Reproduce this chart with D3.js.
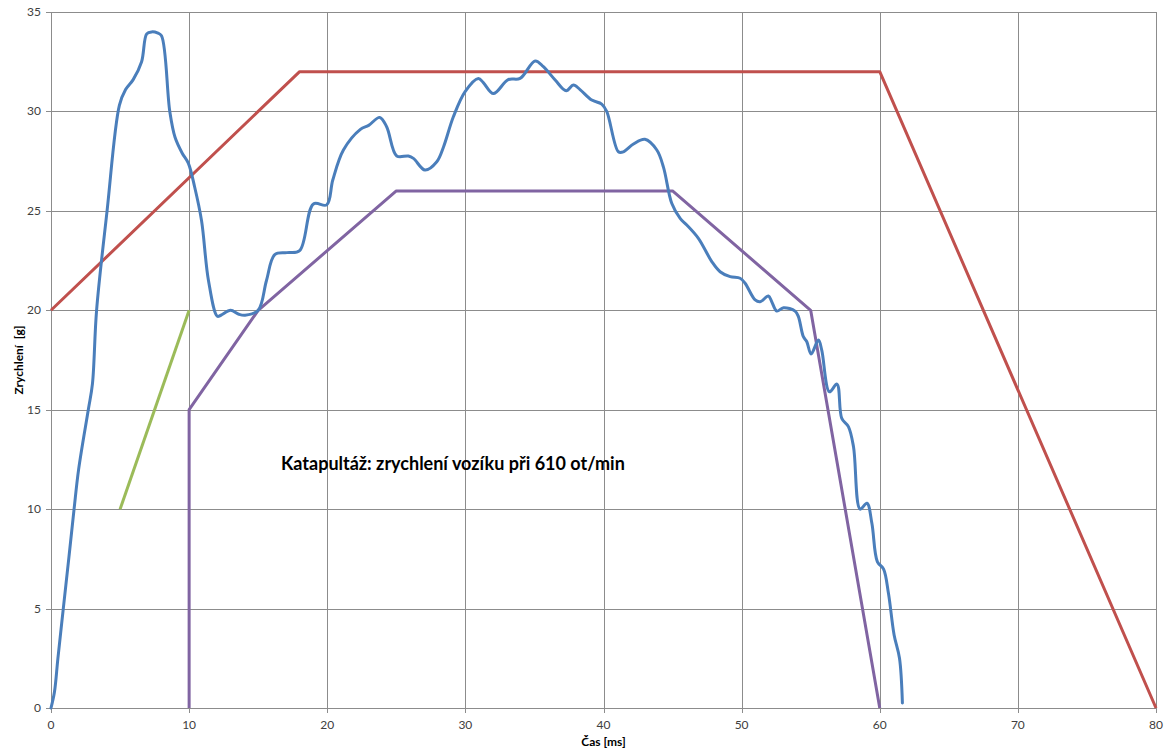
<!DOCTYPE html>
<html><head><meta charset="utf-8">
<script src="https://cdn.jsdelivr.net/npm/d3@7"></script>
<style>html,body{margin:0;padding:0;background:#fff;}</style>
</head><body>
<svg id="c" width="1164" height="751"></svg>
<script>
const xTicks = [0,10,20,30,40,50,60,70,80];
const yTicks = [0,5,10,15,20,25,30,35];
const title = "Katapultáž: zrychlení vozíku při 610 ot/min";
const xTitle = "Čas [ms]";
const yTitle = "Zrychlení  [g]";

// measured acceleration (blue)
const measT = [0,0.25,0.5,0.89,1.3,1.67,2.0,2.7,3.0,3.3,4.06,4.95,5.4,5.95,6.56,6.93,7.29,7.7,8.0,8.6,8.98,9.5,9.94,10.4,10.9,11.4,12.04,12.3,13.0,13.6,14.05,15.0,15.6,16.2,17.07,18.0,19.0,19.96,20.4,21.17,22.4,23.0,23.8,24.3,25.03,25.87,26.24,27.08,27.93,28.41,29.13,29.98,30.94,31.3,32.03,33.1,33.96,35.05,35.65,36.5,37.3,37.82,38.3,39.15,39.87,40.24,41.08,41.44,42.17,43.0,43.86,44.34,44.94,45.55,46.03,46.87,47.84,48.44,49.17,49.89,50.25,50.98,51.34,51.94,52.18,52.55,53.03,53.87,54.11,54.47,54.72,55.03,55.56,55.8,56.36,56.9,57.25,57.73,58.1,58.58,59.07,59.43,59.83,60.27,60.63,61.04,61.43,61.64];
const measV = [0,0.8,2.5,5.0,7.6,10.0,12.0,15.0,16.3,20.0,25.0,30.3,31.1,31.6,32.5,33.9,34.0,33.95,33.8,30.0,28.7,27.9,27.4,26.2,24.5,21.5,19.7,19.75,20.0,19.8,19.75,20.0,21.5,22.8,22.9,23.0,25.35,25.3,26.55,28.06,29.1,29.3,29.7,29.23,27.76,27.76,27.64,27.05,27.47,28.2,29.73,31.0,31.66,31.45,30.9,31.6,31.66,32.54,32.25,31.58,31.04,31.33,31.1,30.57,30.37,29.99,27.97,27.97,28.36,28.6,28.06,27.2,25.38,24.62,24.29,23.62,22.45,21.94,21.69,21.61,21.36,20.52,20.43,20.72,20.43,19.96,20.13,19.96,19.68,18.67,18.42,17.8,18.5,18.0,15.9,16.29,14.56,14.15,13.14,10.0,10.3,9.29,7.35,7.0,5.77,3.67,2.5,0.25];

// limit lines
const redT = [0,18,60,80];
const redV = [20,32,32,0];
const purpleT = [10,10,15,25,45,55,60];
const purpleV = [0,15,20,26,26,20,0];
const greenT = [5,10];
const greenV = [10,20];

const svg = d3.select("#c");
const L = 51, R = 1156, T = 12, B = 708;
const x = d3.scaleLinear().domain([0,80]).range([L,R]);
const y = d3.scaleLinear().domain([0,35]).range([B,T]);
const font = "Lato, 'Open Sans', sans-serif";
const grid = "#8c8c8c";

// horizontal grid
svg.append("g").selectAll("line").data(yTicks).join("line")
  .attr("x1", L).attr("x2", R)
  .attr("y1", d => Math.round(y(d))+0.5).attr("y2", d => Math.round(y(d))+0.5)
  .attr("stroke", grid).attr("stroke-width", 1);
// vertical grid
svg.append("g").selectAll("line").data(xTicks).join("line")
  .attr("x1", d => Math.round(x(d))+0.5).attr("x2", d => Math.round(x(d))+0.5)
  .attr("y1", T).attr("y2", B+5)
  .attr("stroke", grid).attr("stroke-width", 1);
// y ticks
svg.append("g").selectAll("line").data(yTicks).join("line")
  .attr("x1", L-5).attr("x2", L)
  .attr("y1", d => Math.round(y(d))+0.5).attr("y2", d => Math.round(y(d))+0.5)
  .attr("stroke", grid);

// tick labels
svg.append("g").selectAll("text").data(yTicks).join("text")
  .attr("x", L-10).attr("y", d => y(d)+4)
  .attr("text-anchor","end").attr("font-family",font).attr("font-size",12).attr("fill","#404040")
  .text(d => d);
svg.append("g").selectAll("text").data(xTicks).join("text")
  .attr("x", d => x(d)).attr("y", B+21)
  .attr("text-anchor","middle").attr("font-family",font).attr("font-size",12).attr("fill","#404040")
  .text(d => d);

// axis titles
svg.append("text").attr("x", (L+R)/2).attr("y", 746)
  .attr("text-anchor","middle").attr("font-family",font).attr("font-weight","bold")
  .attr("font-size",12).attr("fill","#000").text(xTitle);
svg.append("text").attr("transform","translate(23,360) rotate(-90)")
  .attr("text-anchor","middle").attr("font-family",font).attr("font-weight","bold")
  .attr("font-size",12).attr("fill","#000").style("white-space","pre").text(yTitle);

const mk = (ts, vs) => ts.map((t,i) => [t, vs[i]]);
const straight = d3.line().x(d => x(d[0])).y(d => y(d[1]));
const smooth = d3.line().x(d => x(d[0])).y(d => y(d[1])).curve(d3.curveCatmullRom.alpha(0.5));

svg.append("path").attr("d", straight(mk(greenT, greenV)))
  .attr("fill","none").attr("stroke","#9BBB59").attr("stroke-width",3);
svg.append("path").attr("d", straight(mk(purpleT, purpleV)))
  .attr("fill","none").attr("stroke","#8064A2").attr("stroke-width",3).attr("stroke-linejoin","round");
svg.append("path").attr("d", straight(mk(redT, redV)))
  .attr("fill","none").attr("stroke","#C0504D").attr("stroke-width",3).attr("stroke-linejoin","round");
svg.append("path").attr("d", smooth(mk(measT, measV)))
  .attr("fill","none").attr("stroke","#4A7EBB").attr("stroke-width",3).attr("stroke-linejoin","round").attr("stroke-linecap","round");

// chart title
svg.append("text").attr("x", 281).attr("y", 470)
  .attr("font-family",font).attr("font-weight","bold").attr("font-size",18).attr("fill","#000")
  .text(title);
</script>
</body></html>
